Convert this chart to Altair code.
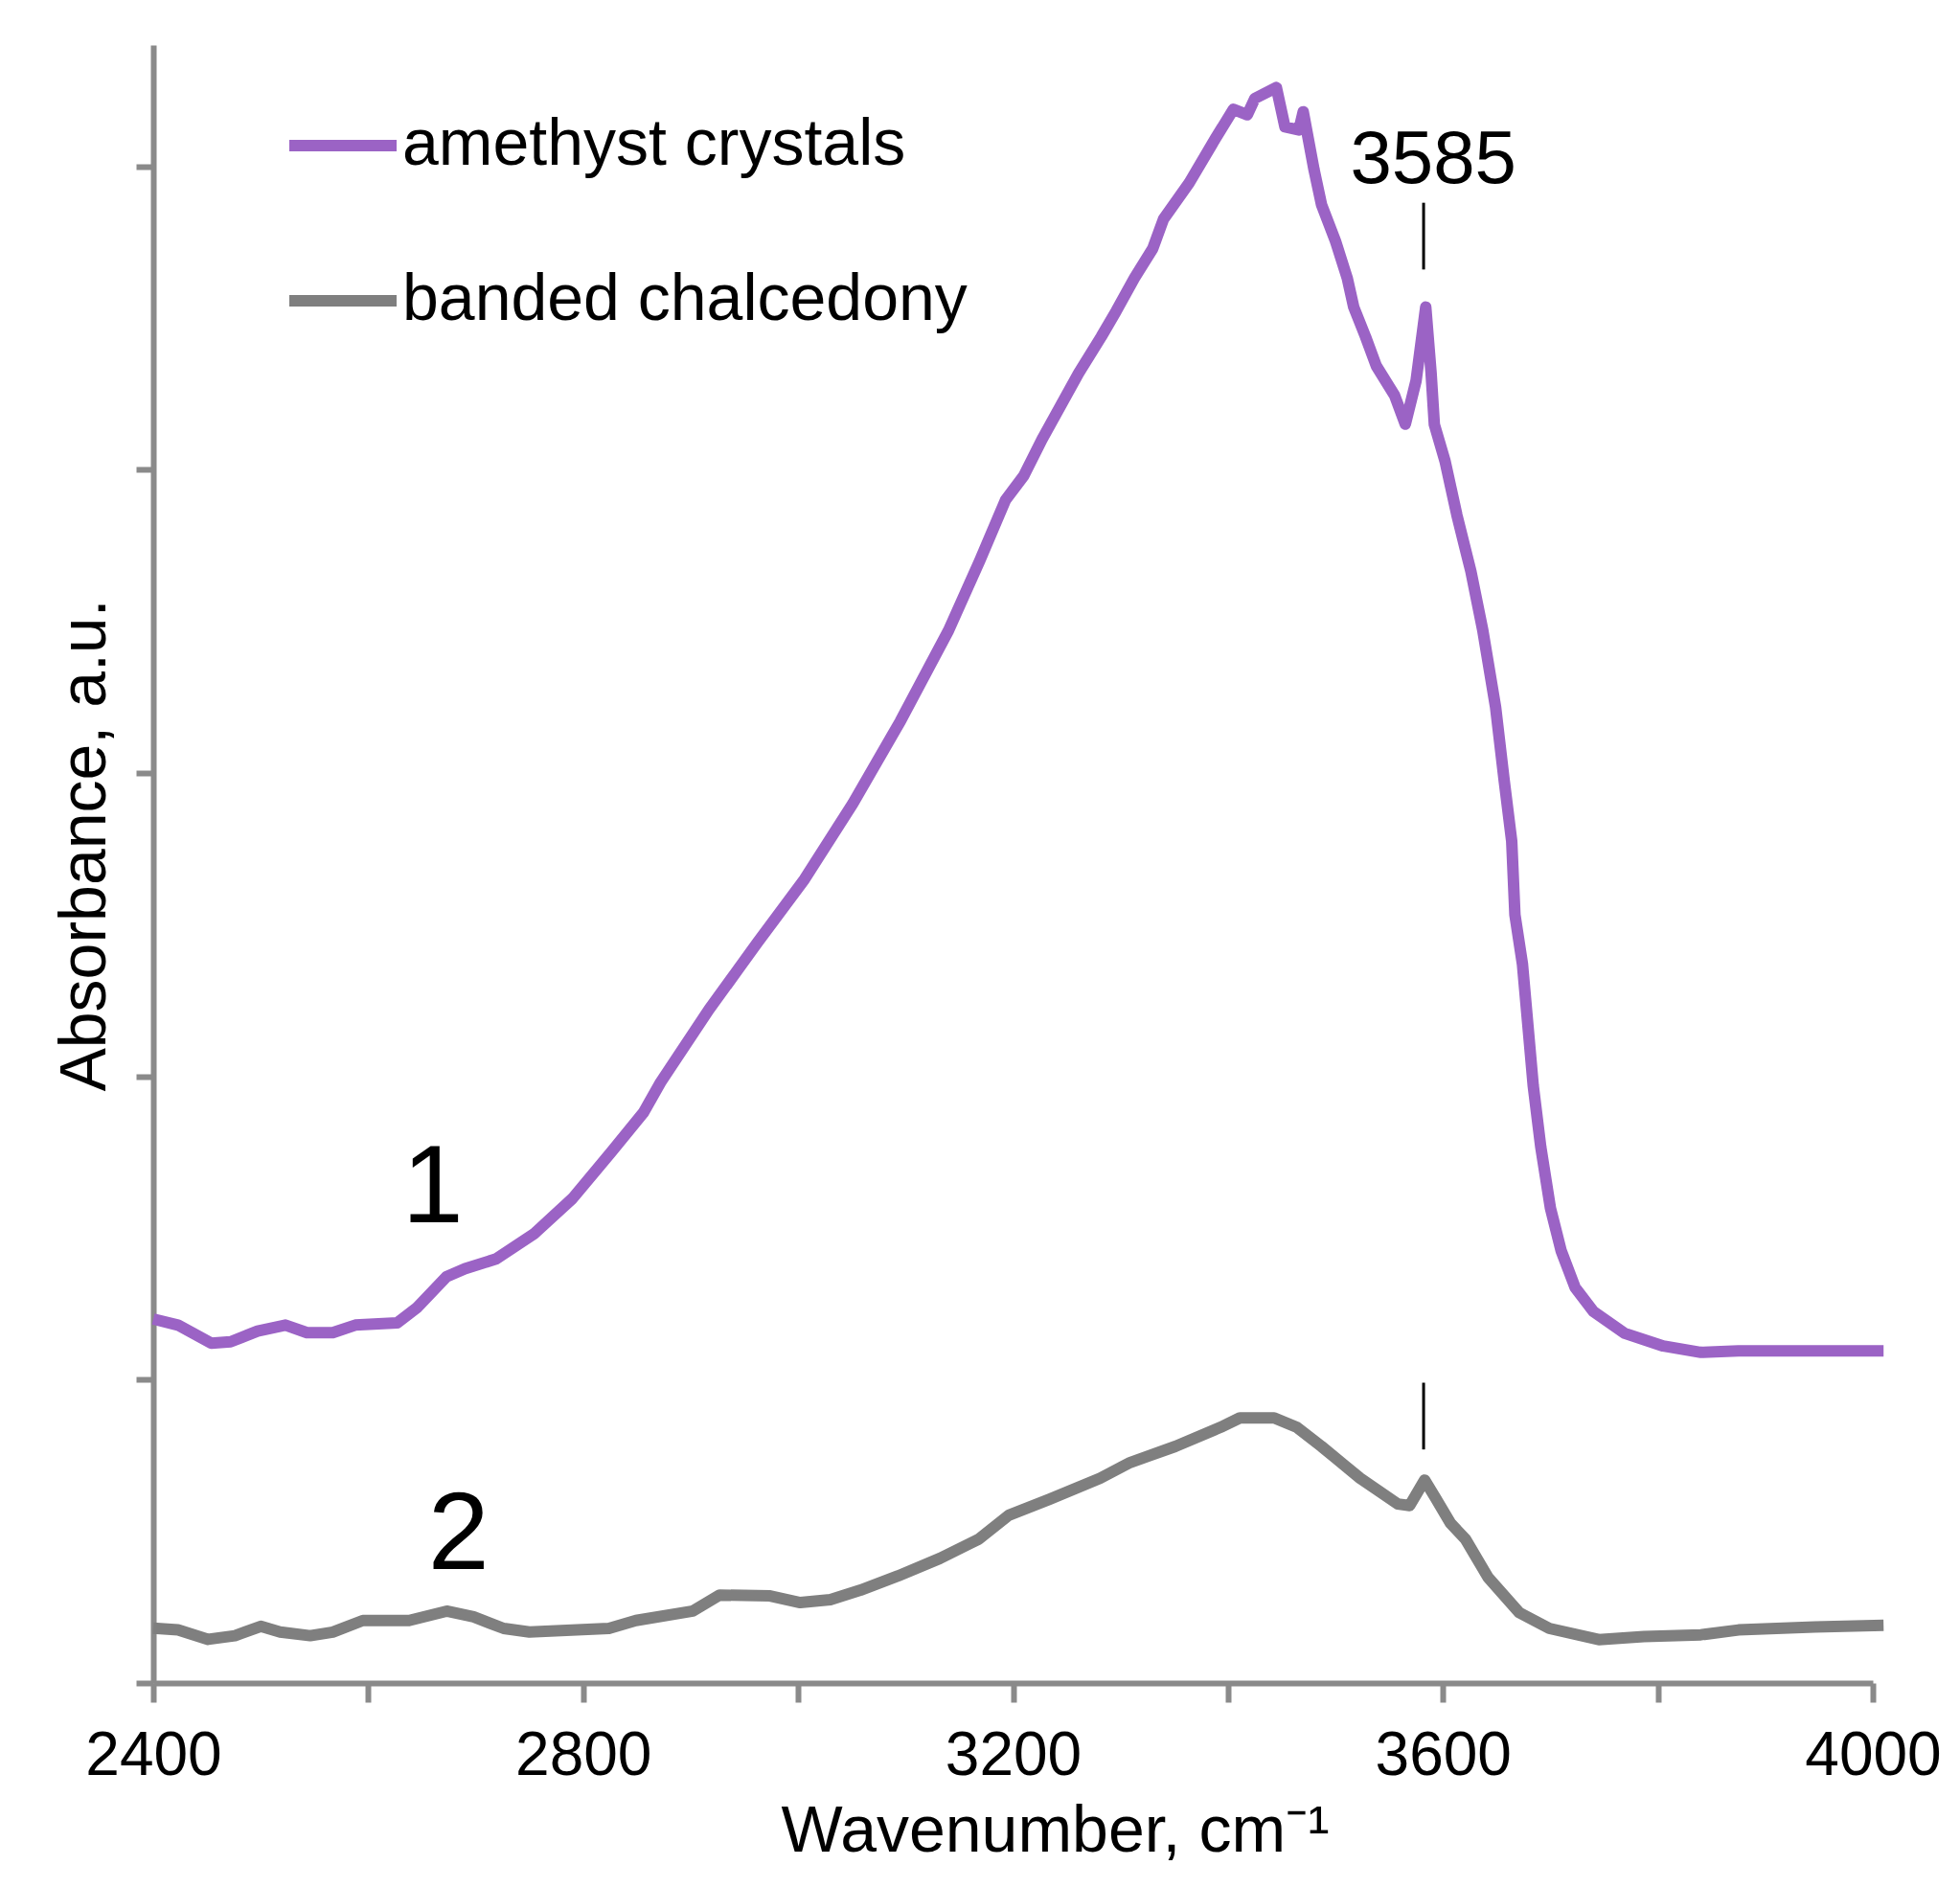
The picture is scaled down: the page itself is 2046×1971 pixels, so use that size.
import altair as alt
import pandas as pd

# ---- data ----
series = ["amethyst crystals", "banded chalcedony"]
colors = ["#9b63c5", "#7f7f7f"]

amethyst_wn = [2400, 2423, 2454, 2472, 2497, 2523, 2543, 2567, 2588, 2627,
               2645, 2673, 2690, 2719, 2754, 2790, 2826, 2856, 2872, 2917,
               2962, 3006, 3051, 3095, 3140, 3169, 3193, 3210, 3227, 3244,
               3261, 3282, 3296, 3313, 3330, 3340, 3364, 3388, 3405, 3418,
               3425, 3445, 3453, 3466, 3470, 3480, 3487, 3500, 3511, 3517,
               3528, 3538, 3555, 3565, 3575, 3584, 3589, 3592, 3602, 3613,
               3626, 3637, 3649, 3657, 3664, 3667, 3674, 3679, 3684, 3691,
               3700, 3710, 3723, 3740, 3769, 3805, 3840, 3875, 3946, 4010]
amethyst_abs = [1.20, 1.18, 1.12, 1.125, 1.16, 1.18, 1.155, 1.155, 1.18, 1.187,
                1.236, 1.34, 1.366, 1.398, 1.48, 1.597, 1.75, 1.88, 1.98, 2.22,
                2.44, 2.65, 2.90, 3.17, 3.47, 3.70, 3.90, 3.98, 4.10, 4.209,
                4.318, 4.438, 4.523, 4.632, 4.729, 4.826, 4.946, 5.09, 5.188, 5.17,
                5.224, 5.26, 5.13, 5.12, 5.18, 4.99, 4.874, 4.754, 4.631, 4.536,
                4.438, 4.342, 4.245, 4.15, 4.293, 4.536, 4.318, 4.149, 4.028, 3.85,
                3.665, 3.472, 3.217, 2.975, 2.775, 2.532, 2.37, 2.17, 1.97, 1.768,
                1.566, 1.425, 1.304, 1.225, 1.153, 1.111, 1.09, 1.095, 1.095, 1.095]

chalcedony_wn = [2400, 2423, 2451, 2476, 2500, 2518, 2546, 2567, 2595, 2638,
                 2673, 2698, 2726, 2750, 2824, 2849, 2902, 2927, 2974, 3002,
                 3030, 3058, 3093, 3132, 3168, 3196, 3234, 3281, 3309, 3351,
                 3393, 3411, 3443, 3464, 3487, 3523, 3558, 3569, 3583, 3593,
                 3607, 3621, 3642, 3671, 3699, 3745, 3787, 3840, 3875, 3946,
                 4010]
chalcedony_abs = [0.181, 0.175, 0.144, 0.156, 0.187, 0.168, 0.156, 0.168, 0.206, 0.206,
                  0.237, 0.218, 0.180, 0.168, 0.180, 0.206, 0.237, 0.290, 0.287, 0.265,
                  0.275, 0.306, 0.353, 0.411, 0.474, 0.553, 0.606, 0.675, 0.727, 0.78,
                  0.843, 0.874, 0.874, 0.843, 0.78, 0.675, 0.59, 0.585, 0.669, 0.611,
                  0.527, 0.474, 0.348, 0.232, 0.18, 0.143, 0.153, 0.159, 0.175, 0.185,
                  0.19]

curve_labels = ["1", "2"]
curve_label_wn = [2660, 2684]
curve_label_abs = [1.518, 0.376]

peak_label = ["3585"]
peak_label_wn = [3591]
peak_label_abs = [4.946]

marker_wn = [3582, 3582]
marker_lo = [4.66, 0.77]
marker_hi = [4.88, 0.99]

x_ticks = [2400, 2600, 2800, 3000, 3200, 3400, 3600, 3800, 4000]
y_ticks = [0, 1, 2, 3, 4, 5]

# ---- tables ----
df = pd.concat([
    pd.DataFrame({"wn": amethyst_wn, "absorb": amethyst_abs, "sample": series[0]}),
    pd.DataFrame({"wn": chalcedony_wn, "absorb": chalcedony_abs, "sample": series[1]}),
], ignore_index=True)
df_lab = pd.DataFrame({"wn": curve_label_wn, "absorb": curve_label_abs, "label": curve_labels})
df_peak = pd.DataFrame({"wn": peak_label_wn, "absorb": peak_label_abs, "label": peak_label})
df_mark = pd.DataFrame({"wn": marker_wn, "absorb": marker_lo, "absorb2": marker_hi})

FONT = "Liberation Sans"
AXIS_GRAY = "#8a8a8a"

x_scale = alt.Scale(domain=[2400, 4000], nice=False, zero=False)
y_scale = alt.Scale(domain=[0, 5.4], nice=False, zero=False)

x_axis = alt.Axis(
    values=x_ticks, format="d",
    labelExpr="datum.value % 400 === 0 ? datum.label : ''",
    labelFont=FONT, labelFontSize=64, labelColor="black",
    labelBaseline="alphabetic", labelPadding=75,
    labelFlush=False, labelOverlap=False, labelBound=False,
    tickSize=20, tickWidth=6, tickColor=AXIS_GRAY,
    domainColor=AXIS_GRAY, domainWidth=6, grid=False,
    titleFont=FONT, titleFontSize=68, titleFontWeight="normal", titleColor="black",
    titleAlign="left", titleBaseline="alphabetic", titleX=655, titleY=175,
)
y_axis = alt.Axis(
    values=y_ticks, labels=False,
    tickSize=18, tickWidth=6, tickColor=AXIS_GRAY,
    domainColor=AXIS_GRAY, domainWidth=6, grid=False,
    titleFont=FONT, titleFontSize=68, titleFontWeight="normal", titleColor="black",
    titleAngle=270, titleAlign="center", titleBaseline="alphabetic",
    titleX=-51, titleY=835,
)

lines = alt.Chart(df).mark_line(strokeWidth=12, strokeJoin="round", clip=False).encode(
    x=alt.X("wn:Q", scale=x_scale, axis=x_axis, title="Wavenumber, cm\u207b\u00b9"),
    y=alt.Y("absorb:Q", scale=y_scale, axis=y_axis, title="Absorbance, a.u."),
    color=alt.Color(
        "sample:N",
        scale=alt.Scale(domain=series, range=colors),
        legend=alt.Legend(
            title=None, orient="none", legendX=136, legendY=43,
            symbolType="stroke", symbolSize=12544, symbolStrokeWidth=12,
            labelFont=FONT, labelFontSize=68, labelColor="black",
            labelOffset=0, rowPadding=66, padding=0, labelLimit=0,
        ),
    ),
)

labels = alt.Chart(df_lab).mark_text(
    font=FONT, fontSize=115, align="center", baseline="alphabetic", color="black"
).encode(x="wn:Q", y="absorb:Q", text="label:N")

peak = alt.Chart(df_peak).mark_text(
    font=FONT, fontSize=78, align="center", baseline="alphabetic", color="black"
).encode(x="wn:Q", y="absorb:Q", text="label:N")

markers = alt.Chart(df_mark).mark_rule(strokeWidth=3, color="black").encode(
    x="wn:Q", y="absorb:Q", y2="absorb2:Q"
)

chart = alt.layer(lines, markers, labels, peak).properties(
    width=1795, height=1710,
    padding={"left": 152, "top": 39, "right": 76, "bottom": 190},
    autosize=alt.AutoSizeParams(type="none"),
    background="white",
).configure_view(stroke=None)

chart.save("out.html", embed_options={"renderer": "svg", "actions": False})
